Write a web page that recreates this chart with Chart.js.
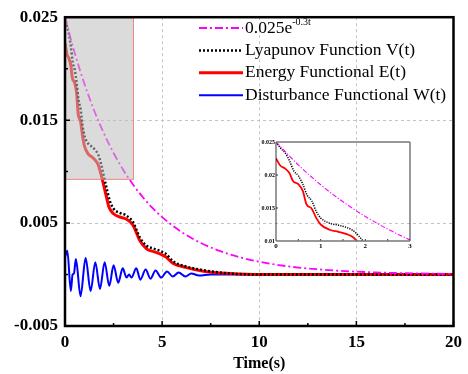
<!DOCTYPE html>
<html>
<head>
<meta charset="utf-8">
<script src="https://cdn.jsdelivr.net/npm/chart.js@4.4.1/dist/chart.umd.min.js"></script>
<style>
  html, body { margin: 0; padding: 0; background: #fff; }
  #wrap { position: relative; width: 468px; height: 374px; }
  .box { position: absolute; }
</style>
</head>
<body>
<div id="wrap">
  <div class="box" style="left:0;top:0;width:468px;height:374px"><canvas id="main"></canvas></div>
  <div class="box" style="left:250px;top:128px;width:175px;height:128px"><canvas id="inset"></canvas></div>
</div>
<script>
// reference curve 0.025e^(-0.3t)
const tRef = [0, 0.5, 1, 1.5, 2, 2.5, 3, 3.5, 4, 4.5, 5, 6, 7, 8, 9, 10, 11, 12, 13, 14, 15, 16, 17, 18, 19, 20];
const vRef = [0.02500, 0.02152, 0.01852, 0.01594, 0.01372, 0.01181, 0.01016, 0.00875, 0.00753, 0.00648, 0.00558,
              0.00413, 0.00306, 0.00227, 0.00168, 0.00124, 0.00092, 0.00068, 0.00051, 0.00037, 0.00028,
              0.00021, 0.00015, 0.00011, 0.00008, 0.00006];

// Lyapunov function V(t)
const tV = [0, 0.1, 0.2, 0.3, 0.4, 0.5, 0.6, 0.7, 0.8, 0.9, 1.0, 1.2, 1.4, 1.6, 1.72, 1.85, 1.97, 2.14, 2.3, 2.5,
            2.8, 3.1, 3.5, 3.85, 4.2, 4.6, 4.9, 5.2, 5.55, 6.2, 7.2, 8.5, 10, 20];
const vV = [0.0250, 0.0241, 0.0234, 0.0222, 0.0206, 0.0199, 0.0186, 0.0169, 0.0161, 0.0145, 0.0135, 0.0127, 0.0124,
            0.0120, 0.0116, 0.0108, 0.0098, 0.0084, 0.0072, 0.0064, 0.0060, 0.0058, 0.0051, 0.0036, 0.0028, 0.0025,
            0.0023, 0.0020, 0.0013, 0.0008, 0.0004, 0.0001, 0, 0];

// Energy functional E(t)
const tE = [0, 0.1, 0.2, 0.3, 0.38, 0.5, 0.6, 0.68, 0.8, 0.9, 1.0, 1.2, 1.4, 1.6, 1.72, 1.8, 1.9, 2.0, 2.15, 2.25,
            2.5, 2.8, 3.15, 3.5, 3.85, 4.2, 4.6, 4.9, 5.2, 5.55, 6.2, 7.2, 8.5, 10, 20];
const vE = [0.0225, 0.0214, 0.0210, 0.0203, 0.0191, 0.0186, 0.0176, 0.0156, 0.0149, 0.0135, 0.0125, 0.0117, 0.0114,
            0.0110, 0.0106, 0.0101, 0.0094, 0.0086, 0.0074, 0.0066, 0.0059, 0.0056, 0.0054, 0.0048, 0.0033, 0.0025,
            0.0022, 0.0020, 0.0017, 0.0011, 0.0007, 0.0003, 0.0001, 0, 0];

// Disturbance functional W(t)
const tW = [0, 0.12, 0.3, 0.39, 0.46, 0.56, 0.8, 1.06, 1.32, 1.56, 1.8, 2.04, 2.28, 2.5, 2.74, 2.97, 3.17, 3.3, 3.42,
            3.67, 3.88, 4.15, 4.4, 4.66, 4.95, 5.25, 5.55, 5.85, 6.2, 6.5, 6.9, 7.5, 8, 10, 15, 20];
const vW = [0.0017, 0.0023, -0.0016, 0.0000, 0.0001, 0.0015, -0.0021, 0.0016, -0.0016, 0.0012, -0.0014, 0.0012,
            -0.0011, 0.0009, -0.0008, 0.0006, -0.0003, 0.0000, -0.0003, 0.0006, -0.0005, 0.0005, -0.0004, 0.0004,
            -0.0003, 0.0003, -0.0002, 0.0002, -0.0002, 0.0001, -0.0001, 0, 0, 0, 0, 0];

const xTicksMajor = [0, 5, 10, 15, 20];
const xTicksMinor = [2.5, 7.5, 12.5, 17.5];
const yTicksMajor = [-0.005, 0.005, 0.015, 0.025];
const yTicksMinor = [0, 0.01, 0.02];

// zoomed region shown in the inset
const boxT = [0, 3.55];
const boxV = [0.0092, 0.025];

const SERIF = "'Liberation Serif', 'Times New Roman', serif";

const pts = (ts, vs) => ts.map((t, i) => ({ x: t, y: vs[i] }));

function makeSets(scale) {
  return [
    { label: '0.025e', sup: '-0.3t', data: pts(tRef, vRef), borderColor: '#ff00ff', borderWidth: 1.8 * scale,
      borderDash: [8 * scale, 3 * scale, 2 * scale, 3 * scale], order: 1 },
    { label: 'Lyapunov Function V(t)', data: pts(tV, vV), borderColor: '#000', borderWidth: 2.5 * scale,
      borderDash: [2 * scale, 2 * scale], order: 2 },
    { label: 'Energy Functional E(t)', data: pts(tE, vE), borderColor: '#ff0000', borderWidth: 3 * scale, order: 3 },
    { label: 'Disturbance Functional W(t)', data: pts(tW, vW), borderColor: '#0000ff', borderWidth: 2 * scale, order: 4 }
  ].map(d => Object.assign({ pointRadius: 0, cubicInterpolationMode: 'monotone', fill: false, borderCapStyle: 'butt' }, d));
}

// gray translucent box over the zoomed region
const zoomBoxPlugin = {
  id: 'zoomBox',
  afterDatasetsDraw(chart) {
    const { ctx, scales: { x, y } } = chart;
    const x0 = x.getPixelForValue(boxT[0]), x1 = x.getPixelForValue(boxT[1]);
    const y0 = y.getPixelForValue(boxV[1]), y1 = y.getPixelForValue(boxV[0]);
    ctx.save();
    ctx.fillStyle = 'rgba(190,190,190,0.55)';
    ctx.fillRect(x0, y0, x1 - x0, y1 - y0);
    ctx.strokeStyle = 'rgba(245,110,110,0.75)';
    ctx.lineWidth = 1;
    ctx.strokeRect(x0 + 0.5, y0 + 0.5, x1 - x0 - 1, y1 - y0 - 1);
    ctx.restore();
  }
};

// frame and inward ticks
const framePlugin = {
  id: 'frame',
  afterDraw(chart) {
    const { ctx, chartArea: a, scales: { x, y } } = chart;
    ctx.save();
    ctx.strokeStyle = '#000';
    ctx.lineWidth = 1.5;
    ctx.beginPath();
    xTicksMajor.forEach(v => { const px = x.getPixelForValue(v); ctx.moveTo(px, a.bottom); ctx.lineTo(px, a.bottom - 5); });
    xTicksMinor.forEach(v => { const px = x.getPixelForValue(v); ctx.moveTo(px, a.bottom); ctx.lineTo(px, a.bottom - 3); });
    yTicksMajor.forEach(v => { const py = y.getPixelForValue(v); ctx.moveTo(a.left, py); ctx.lineTo(a.left + 5, py); });
    yTicksMinor.forEach(v => { const py = y.getPixelForValue(v); ctx.moveTo(a.left, py); ctx.lineTo(a.left + 3, py); });
    ctx.stroke();
    ctx.lineWidth = 2.5;
    ctx.strokeRect(a.left, a.top, a.right - a.left, a.bottom - a.top);
    ctx.restore();
  }
};

// legend drawn inside the plot area
const legendPlugin = {
  id: 'insideLegend',
  afterDraw(chart) {
    const { ctx } = chart;
    const x0 = 199, x1 = 243, tx = 245, top = 28, step = 22.4;
    ctx.save();
    chart.data.datasets.forEach((d, i) => {
      const yy = top + i * step;
      ctx.strokeStyle = d.borderColor;
      ctx.lineWidth = d.borderWidth;
      ctx.setLineDash(d.borderDash || []);
      ctx.beginPath();
      ctx.moveTo(x0, yy);
      ctx.lineTo(x1, yy);
      ctx.stroke();
      ctx.setLineDash([]);
      ctx.fillStyle = '#000';
      ctx.textBaseline = 'middle';
      ctx.font = '17.5px ' + SERIF;
      ctx.fillText(d.label, tx, yy);
      if (d.sup) {
        const w = ctx.measureText(d.label).width;
        ctx.font = '10px ' + SERIF;
        ctx.fillText(d.sup, tx + w, yy - 6);
      }
    });
    ctx.restore();
  }
};

new Chart(document.getElementById('main'), {
  type: 'line',
  data: { datasets: makeSets(1) },
  plugins: [zoomBoxPlugin, framePlugin, legendPlugin],
  options: {
    responsive: true,
    maintainAspectRatio: false,
    animation: false,
    layout: { padding: { left: 0, right: 13, top: 12, bottom: 0 } },
    plugins: { legend: { display: false }, tooltip: { enabled: false } },
    scales: {
      x: {
        type: 'linear', min: 0, max: 20,
        ticks: { stepSize: 5, color: '#000', padding: 6, maxRotation: 0,
                 font: { family: SERIF, size: 17, weight: 'bold' } },
        grid: { color: '#c4c4c4', lineWidth: 1, drawTicks: false },
        border: { display: false, dash: [3, 3] },
        title: { display: true, text: 'Time(s)', color: '#000', padding: { top: 0, bottom: 1 },
                 font: { family: SERIF, size: 16, weight: 'bold' } },
        afterFit(s) { s.height = 48; }
      },
      y: {
        type: 'linear', min: -0.005, max: 0.025,
        ticks: { stepSize: 0.01, color: '#000', padding: 7,
                 font: { family: SERIF, size: 17, weight: 'bold' },
                 callback: v => v.toFixed(3) },
        grid: { color: '#c4c4c4', lineWidth: 1, drawTicks: false },
        border: { display: false, dash: [3, 3] },
        afterFit(s) { s.width = 65; }
      }
    }
  }
});

// inset
const insetXMinor = [0.5, 1, 1.5, 2, 2.5];
const insetYMinor = [0.015, 0.02];

const insetFrame = {
  id: 'insetFrame',
  afterDraw(chart) {
    const { ctx, chartArea: a, scales: { x, y } } = chart;
    ctx.save();
    ctx.strokeStyle = '#000';
    ctx.lineWidth = 0.8;
    ctx.beginPath();
    insetXMinor.forEach(v => { const px = x.getPixelForValue(v); ctx.moveTo(px, a.bottom); ctx.lineTo(px, a.bottom - 2); });
    insetYMinor.forEach(v => { const py = y.getPixelForValue(v); ctx.moveTo(a.left, py); ctx.lineTo(a.left + 2, py); });
    ctx.moveTo(a.left, a.top); ctx.lineTo(a.left, a.bottom);
    ctx.moveTo(a.right, a.top); ctx.lineTo(a.right, a.bottom);
    ctx.stroke();
    ctx.strokeStyle = '#777';
    ctx.lineWidth = 1.5;
    ctx.beginPath();
    ctx.moveTo(a.left, a.top); ctx.lineTo(a.right, a.top);
    ctx.moveTo(a.left, a.bottom); ctx.lineTo(a.right, a.bottom);
    ctx.stroke();
    ctx.restore();
  }
};

new Chart(document.getElementById('inset'), {
  type: 'line',
  data: { datasets: makeSets(0.6) },
  plugins: [insetFrame],
  options: {
    responsive: true,
    maintainAspectRatio: false,
    animation: false,
    layout: { padding: { left: 0, right: 15, top: 14, bottom: 0 } },
    plugins: { legend: { display: false }, tooltip: { enabled: false } },
    scales: {
      x: {
        type: 'linear', min: 0, max: 3,
        ticks: { stepSize: 1, color: '#000', padding: 1, maxRotation: 0,
                 font: { family: SERIF, size: 7, weight: 'bold' } },
        grid: { display: false, drawTicks: false },
        border: { display: false },
        afterFit(s) { s.height = 15; }
      },
      y: {
        type: 'linear', min: 0.01, max: 0.025,
        ticks: { stepSize: 0.005, color: '#000', padding: 1,
                 font: { family: SERIF, size: 6, weight: 'bold' },
                 callback: v => String(+v.toFixed(3)) },
        grid: { display: false, drawTicks: false },
        border: { display: false },
        afterFit(s) { s.width = 26; }
      }
    }
  }
});
</script>
</body>
</html>
